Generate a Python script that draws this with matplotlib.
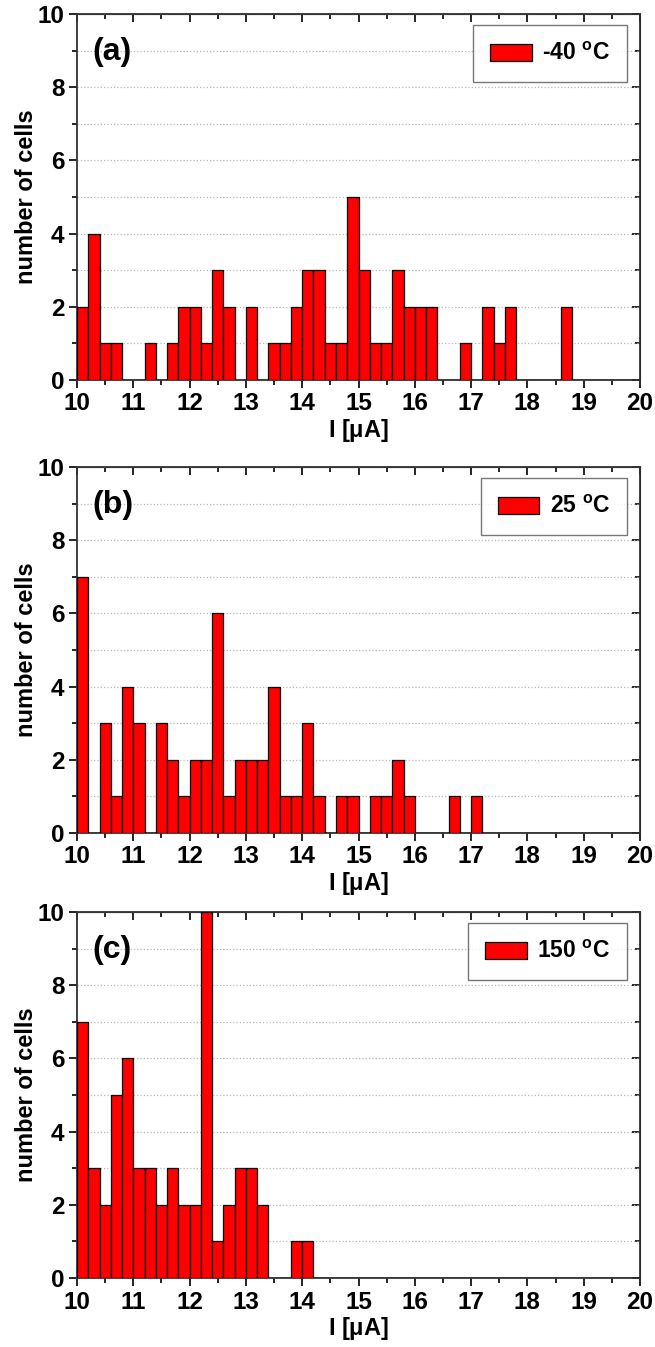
import numpy as np
import matplotlib.pyplot as plt
from matplotlib.ticker import MultipleLocator

plt.rcParams['font.family'] = ['Liberation Sans', 'DejaVu Sans']
plt.rcParams['font.weight'] = 'bold'
plt.rcParams['mathtext.fontset'] = 'custom'
plt.rcParams['mathtext.bf'] = 'Liberation Sans:bold'
plt.rcParams['mathtext.rm'] = 'Liberation Sans:bold'

# histogram bins: 10 .. 20 uA in steps of 0.2 uA
bin_edges = np.linspace(10, 20, 51)

# counts per bin
counts_m40 = [2, 4, 1, 1, 0, 0, 1, 0, 1, 2,
              2, 1, 3, 2, 0, 2, 0, 1, 1, 2,
              3, 3, 1, 1, 5, 3, 1, 1, 3, 2,
              2, 2, 0, 0, 1, 0, 2, 1, 2, 0,
              0, 0, 0, 2, 0, 0, 0, 0, 0, 0]
counts_25 = [7, 0, 3, 1, 4, 3, 0, 3, 2, 1,
             2, 2, 6, 1, 2, 2, 2, 4, 1, 1,
             3, 1, 0, 1, 1, 0, 1, 1, 2, 1,
             0, 0, 0, 1, 0, 1, 0, 0, 0, 0,
             0, 0, 0, 0, 0, 0, 0, 0, 0, 0]
counts_150 = [7, 3, 2, 5, 6, 3, 3, 2, 3, 2,
              2, 10, 1, 2, 3, 3, 2, 0, 0, 1,
              1, 0, 0, 0, 0, 0, 0, 0, 0, 0,
              0, 0, 0, 0, 0, 0, 0, 0, 0, 0,
              0, 0, 0, 0, 0, 0, 0, 0, 0, 0]

panel_tags = ['(a)', '(b)', '(c)']
legend_labels = [r'-40 $^{\mathbf{o}}$C', r'25 $^{\mathbf{o}}$C', r'150 $^{\mathbf{o}}$C']
all_counts = [counts_m40, counts_25, counts_150]

fig = plt.figure(figsize=(6.55, 13.47), dpi=100)
bottoms = [0.7179, 0.3816, 0.0512]

for bot, counts, tag, lab in zip(bottoms, all_counts, panel_tags, legend_labels):
    ax = fig.add_axes([0.1176, bot, 0.8595, 0.2717])
    ax.bar(bin_edges[:-1], counts, width=0.2, align='edge', color='#ff0000',
           edgecolor='black', linewidth=0.9, label=lab, zorder=3)
    ax.set_xlim(10, 20)
    ax.set_ylim(0, 10)
    ax.xaxis.set_major_locator(MultipleLocator(1))
    ax.xaxis.set_minor_locator(MultipleLocator(0.5))
    ax.yaxis.set_major_locator(MultipleLocator(2))
    ax.yaxis.set_minor_locator(MultipleLocator(1))
    ax.grid(which='both', axis='y', linestyle=':', color='#b8b8b8', linewidth=0.9, zorder=0)
    ax.set_axisbelow(True)

    ax.tick_params(which='both', direction='out', top=False, right=False, width=1.2,
                   labelsize=17.5, pad=3)
    ax.tick_params(which='major', length=6)
    ax.tick_params(which='minor', length=3.5)
    for lbl in ax.get_xticklabels() + ax.get_yticklabels():
        lbl.set_fontweight('bold')

    # mirrored ticks on top / right pointing inward
    sec_x = ax.secondary_xaxis('top')
    sec_x.xaxis.set_major_locator(MultipleLocator(1))
    sec_x.xaxis.set_minor_locator(MultipleLocator(0.5))
    sec_x.tick_params(which='both', direction='in', labeltop=False, width=1.2)
    sec_x.tick_params(which='major', length=6)
    sec_x.tick_params(which='minor', length=3.5)
    sec_y = ax.secondary_yaxis('right')
    sec_y.yaxis.set_major_locator(MultipleLocator(2))
    sec_y.yaxis.set_minor_locator(MultipleLocator(1))
    sec_y.tick_params(which='both', direction='in', labelright=False, width=1.2)
    sec_y.tick_params(which='major', length=6)
    sec_y.tick_params(which='minor', length=3.5)

    for sp in ax.spines.values():
        sp.set_linewidth(1.3)
        sp.set_color('#333333')

    ax.set_xlabel(r'I [$\mathbf{\mu}$A]', fontsize=17, fontweight='bold', labelpad=1)
    ax.set_ylabel('number of cells', fontsize=17, fontweight='bold', labelpad=0)
    ax.text(0.027, 0.895, tag, transform=ax.transAxes, fontsize=23,
            fontweight='bold', va='center', ha='left')
    leg = ax.legend(loc='upper right', bbox_to_anchor=(0.977, 0.97), borderaxespad=0,
                    fontsize=16.5, frameon=True, fancybox=False, handlelength=1.8,
                    handleheight=0.75, borderpad=0.75, handletextpad=0.45)
    leg.get_frame().set_edgecolor('#555555')
    leg.get_frame().set_linewidth(1.0)
    for t in leg.get_texts():
        t.set_fontweight('bold')

fig.savefig('out.png', dpi=100)
